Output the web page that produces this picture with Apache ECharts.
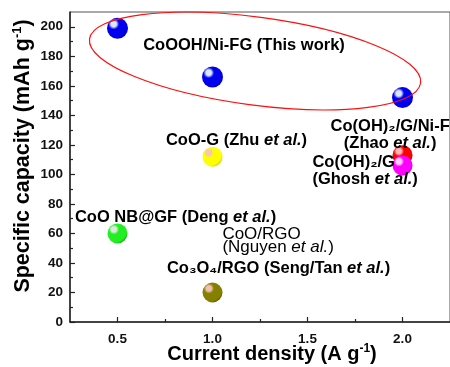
<!DOCTYPE html>
<html><head><meta charset="utf-8">
<script src="https://cdn.jsdelivr.net/npm/echarts@6/dist/echarts.min.js"></script>
<style>html,body{margin:0;padding:0;background:#fff}#c{width:450px;height:367px}</style>
</head><body><div id="c"></div>
<script>
// ---- data ----
const xTickValues = [0.5, 1.0, 1.5, 2.0];
const xMinorTickValues = [0.75, 1.25, 1.75];
const yTickValues = [0, 20, 40, 60, 80, 100, 120, 140, 160, 180, 200];
const yMinorTickValues = [10, 30, 50, 70, 90, 110, 130, 150, 170, 190];

const thisWorkX = [0.5, 1.0, 2.0];
const thisWorkY = [199, 166, 152];

const refNames = ['CoO-G', 'Co(OH)2/G/Ni-F', 'Co(OH)2/G', 'CoO NB@GF', 'Co3O4/RGO'];
const refX = [1.0, 2.0, 2.0, 0.5, 1.0];
const refY = [112, 113, 106, 60, 20];

// ---- styles ----
const FONT = 'Liberation Sans, Arial, Helvetica, sans-serif';
const refColors = [
  ['#f5c8b0', '#ffff00', '#c8c800'],
  ['#ffb8b8', '#ff0000', '#b00000'],
  ['#ffd0ff', '#ff00ff', '#b000b0'],
  ['#dde8e0', '#22ee22', '#10a010'],
  ['#f0c0b0', '#858000', '#5a5600']
];
const thisWorkColor = ['#d8e8ff', '#0000ee', '#00009a'];

function sphere(c) {
  return new echarts.graphic.RadialGradient(0.32, 0.3, 0.8, [
    {offset: 0, color: c[0]}, {offset: 0.16, color: c[0]},
    {offset: 0.32, color: c[1]}, {offset: 0.8, color: c[1]}, {offset: 1, color: c[2]}
  ]);
}

const series = [{
  type: 'scatter', name: 'CoOOH/Ni-FG', symbolSize: 21,
  data: thisWorkX.map((x, i) => [x, thisWorkY[i]]),
  itemStyle: {color: sphere(thisWorkColor), opacity: 1}, z: 3
}];
refNames.forEach((n, i) => {
  series.push({
    type: 'scatter', name: n, symbolSize: 20,
    data: [[refX[i], refY[i]]],
    itemStyle: {color: sphere(refColors[i]), opacity: 1}, z: 3
  });
});

const axisLine = {show: true, lineStyle: {color: '#222', width: 1.5}};
const lbl = {fontFamily: FONT, fontWeight: 'bold', fontSize: 13.5, color: '#111'};

const chart = echarts.init(document.getElementById('c'));
chart.setOption({
  animation: false,
  grid: {left: 70, top: 12, right: -4, bottom: 45, show: true, borderColor: '#555', borderWidth: 1},
  xAxis: [{
    type: 'value', min: 0.25, max: 2.25,
    axisLine: axisLine,
    axisTick: {show: true, inside: true, length: 5, customValues: xTickValues, lineStyle: {color: '#222', width: 1.2}},
    axisLabel: Object.assign({customValues: xTickValues, margin: 10, formatter: v => v.toFixed(1)}, lbl),
    splitLine: {show: false}
  }, {
    type: 'value', min: 0.25, max: 2.25, position: 'bottom',
    axisLine: {show: false},
    axisTick: {show: true, inside: true, length: 3, customValues: xMinorTickValues, lineStyle: {color: '#222', width: 1.2}},
    axisLabel: {show: false}, splitLine: {show: false}
  }],
  yAxis: [{
    type: 'value', min: 0, max: 210,
    axisLine: axisLine,
    axisTick: {show: true, inside: true, length: 5, customValues: yTickValues, lineStyle: {color: '#222', width: 1.2}},
    axisLabel: Object.assign({customValues: yTickValues, margin: 7}, lbl),
    splitLine: {show: false}
  }, {
    type: 'value', min: 0, max: 210, position: 'left',
    axisLine: {show: false},
    axisTick: {show: true, inside: true, length: 3, customValues: yMinorTickValues, lineStyle: {color: '#222', width: 1.2}},
    axisLabel: {show: false}, splitLine: {show: false}
  }],
  series: series
});

// ---- annotations (anchored in data coordinates) ----
function richSet(size, weight, lh) {
  return {
    b: {fontFamily: FONT, fontWeight: weight, fontSize: size, color: '#111', lineHeight: lh},
    i: {fontFamily: FONT, fontWeight: weight, fontStyle: 'italic', fontSize: size, color: '#111', lineHeight: lh},
    p: {fontFamily: FONT, fontWeight: weight, fontSize: Math.round(size * 0.6), color: '#111', lineHeight: lh, verticalAlign: 'top', padding: [0, 0, 0, 0]}
  };
}
const notes = [
  {at: [0.635, 187], align: 'left', size: 16.5, text: '{b|CoOOH/Ni-FG (This work)}'},
  {at: [0.755, 123], align: 'left', size: 16.5, text: '{b|CoO-G (Zhu }{i|et al.}{b|)}'},
  {at: [1.935, 127], align: 'center', size: 16.5, text: '{b|Co(OH)₂/G/Ni-F}\n{b|(Zhao }{i|et al.}{b|)}'},
  {at: [1.526, 102], align: 'left', size: 16.5, text: '{b|Co(OH)₂/G}\n{b|(Ghosh }{i|et al.}{b|)}'},
  {at: [0.276, 70.5], align: 'left', size: 16.5, text: '{b|CoO NB@GF (Deng }{i|et al.}{b|)}'},
  {at: [1.052, 54.9], align: 'left', size: 17, weight: 'normal', lh: 13, text: '{b|CoO/RGO}\n{b|(Nguyen }{i|et al.}{b|)}'},
  {at: [0.76, 36.6], align: 'left', size: 16.5, text: '{b|Co₃O₄/RGO (Seng/Tan }{i|et al.}{b|)}'}
];
const ellipseCenter = [1.224, 176.8];
const ec = chart.convertToPixel({xAxisIndex: 0, yAxisIndex: 0}, ellipseCenter);
const graphics = notes.map(n => {
  const p = chart.convertToPixel({xAxisIndex: 0, yAxisIndex: 0}, n.at);
  return {type: 'text', x: p[0], y: p[1], z: 10,
    style: {text: n.text, rich: richSet(n.size, n.weight || 'bold', n.lh || 17), align: n.align, verticalAlign: 'middle'}};
});
graphics.push({
  type: 'ellipse', x: ec[0], y: ec[1], rotation: -0.132, z: 20,
  shape: {cx: 0, cy: 0, rx: 167, ry: 44},
  style: {fill: 'none', stroke: '#ff1010', lineWidth: 1.2}
});
// axis titles
graphics.push({
  type: 'text', x: 272, y: 354, z: 10,
  style: {text: '{b|Current density (A g}{p|-1}{b|)}', align: 'center', verticalAlign: 'middle',
    rich: richSet(20, 'bold', 22)}
});
graphics.push({
  type: 'text', x: 23, y: 156, rotation: Math.PI / 2, z: 10,
  style: {text: '{b|Specific capacity (mAh g}{p|-1}{b|)}', align: 'center', verticalAlign: 'middle',
    rich: richSet(21.5, 'bold', 24)}
});
chart.setOption({graphic: graphics});
</script></body></html>
